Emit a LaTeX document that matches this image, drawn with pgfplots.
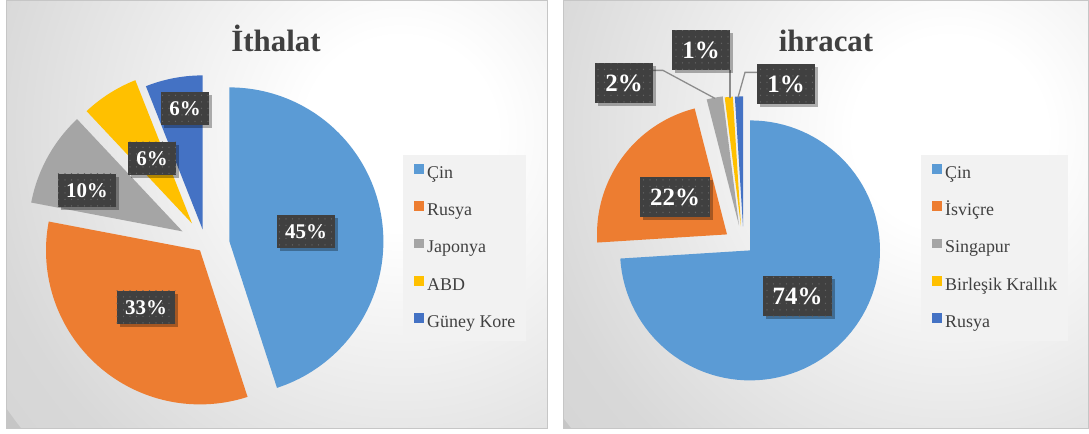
\documentclass[border=0pt]{standalone}
\usepackage{pgfplots}
\pgfplotsset{compat=1.18}
\usepackage{pgfplotstable}
\usepackage{fontspec}
\setmainfont{Liberation Serif}
\usetikzlibrary{shadows,patterns.meta}

\definecolor{cBlue}{HTML}{5B9BD5}
\definecolor{cOrange}{HTML}{ED7D31}
\definecolor{cGray}{HTML}{A5A5A5}
\definecolor{cGold}{HTML}{FFC000}
\definecolor{cDark}{HTML}{4472C4}
\definecolor{lblbg}{HTML}{404040}
\definecolor{txt}{HTML}{404040}
\definecolor{bgmid}{HTML}{D8D8D8}
\definecolor{bgedge}{HTML}{C6C6C6}
\definecolor{legbg}{HTML}{F2F2F2}

\pgfdeclareradialshading{panelbg}{\pgfpoint{0bp}{0bp}}{%
  color(0bp)=(white); color(5bp)=(white); color(22bp)=(bgmid); color(50bp)=(bgedge)}

% value = share in %, vx/vy = slice tip (exploded), lx/ly = label centre
\pgfplotstableread{
name value col vx vy lx ly
Çin 45 cBlue 229.4 192 306 202
Rusya 33 cOrange 200 183 146 126
Japonya 10 cGray 182.5 202 87 243
ABD 6 cGold 192 210 152 275
{Güney Kore} 6 cDark 202.6 204 185 325
}\ithalat

\pgfplotstableread{
name value col vx vy lx ly
Çin 74 cBlue 750 183 797.5 137
İsviçre 22 cOrange 727 199 675 236
Singapur 2 cGray 739 208 624 350
{Birleşik Krallık} 1 cGold 741 207 701 383
Rusya 1 cDark 743 207 786 349
}\ihracat

\newcommand\pieslices[2]{% #1 table, #2 radius
  \pgfplotstablegetrowsof{#1}\pgfmathtruncatemacro\last{\pgfplotsretval-1}%
  \def\cum{0}%
  \pgfplotsforeachungrouped \i in {0,...,\last}{%
    \pgfplotstablegetelem{\i}{value}\of#1\let\v\pgfplotsretval
    \pgfplotstablegetelem{\i}{name}\of#1\let\nm\pgfplotsretval
    \pgfplotstablegetelem{\i}{col}\of#1\let\cl\pgfplotsretval
    \pgfplotstablegetelem{\i}{vx}\of#1\let\vx\pgfplotsretval
    \pgfplotstablegetelem{\i}{vy}\of#1\let\vy\pgfplotsretval
    \pgfmathsetmacro\ta{90-3.6*\cum}%
    \pgfmathsetmacro\tb{\ta-3.6*\v}%
    \pgfmathsetmacro\cum{\cum+\v}%
    \edef\next{\noexpand\addplot[fill=\cl, draw=none, domain=\tb:\ta, samples=90, variable=\noexpand\t]
      ({\vx+#2*cos(\noexpand\t)}, {\vy+#2*sin(\noexpand\t)}) -- (axis cs:\vx,\vy) -- cycle;
      \noexpand\addlegendentry{\nm}}%
    \next
  }%
}

\newcommand\pielabels[2]{% #1 table, #2 node style
  \pgfplotstablegetrowsof{#1}\pgfmathtruncatemacro\last{\pgfplotsretval-1}%
  \pgfplotsforeachungrouped \i in {0,...,\last}{%
    \pgfplotstablegetelem{\i}{value}\of#1\let\v\pgfplotsretval
    \pgfplotstablegetelem{\i}{lx}\of#1\let\lx\pgfplotsretval
    \pgfplotstablegetelem{\i}{ly}\of#1\let\ly\pgfplotsretval
    \edef\next{\noexpand\node[#2] at (axis cs:\lx,\ly) {\v\%};}%
    \next
  }%
}

\tikzset{
  lbl/.style={fill=lblbg, text=white, inner ysep=0bp,
    drop shadow={shadow xshift=3bp, shadow yshift=-3bp, fill=black, opacity=0.3},
    postaction={pattern={Dots[distance=6.5bp, radius=0.7bp]}, pattern color=gray!55!lblbg}},
  lblL/.style={lbl, font=\bfseries\fontsize{21}{21}\selectfont, inner xsep=8.5bp, minimum height=33bp},
  lblR/.style={lbl, font=\bfseries\fontsize{25}{25}\selectfont, inner xsep=10bp, minimum height=40bp},
  ttl/.style={anchor=base, text=txt, font=\bfseries\fontsize{31}{31}\selectfont},
}

\pgfplotsset{
  piebase/.style={
    at={(0bp,0bp)}, anchor=south west,
    x=1bp, y=1bp, xmin=0, xmax=1089, ymin=0, ymax=432,
    hide axis, clip=false,
    legend cell align=left,
    legend image code/.code={\fill[##1] (0bp,0bp) rectangle (10bp,9.5bp);},
    legend style={anchor=north west, draw=none, fill=legbg,
      inner xsep=11bp, inner ysep=9.5bp, row sep=19.3bp, column sep=3bp,
      font=\fontsize{18}{20}\selectfont, text=txt,
      nodes={inner sep=0bp, text height=13bp, text depth=4bp}},
  }
}

\begin{document}
\begin{tikzpicture}
\fill[white] (0bp,0bp) rectangle (1089bp,432bp);
% panel backgrounds
\begin{scope}
  \clip (6bp,5bp) rectangle (547bp,432bp);
  \fill[bgedge] (6bp,5bp) rectangle (547bp,432bp);
  \shade[shading=panelbg] (400bp,300bp) circle (480bp);
\end{scope}
\draw[gray!45, line width=0.8bp] (6bp,5bp) rectangle (547bp,433bp);
\begin{scope}
  \clip (563bp,5bp) rectangle (1089bp,432bp);
  \fill[bgedge] (563bp,5bp) rectangle (1089bp,432bp);
  \shade[shading=panelbg] (950bp,300bp) circle (480bp);
\end{scope}
\draw[gray!45, line width=0.8bp] (563bp,5bp) rectangle (1088bp,433bp);

\begin{axis}[piebase, legend style={at={(0.3701,0.6458)}}]
  \pieslices{\ithalat}{154}
  \node[ttl] at (axis cs:276,382) {İthalat};
  \pielabels{\ithalat}{lblL}
\end{axis}

\begin{axis}[piebase, legend style={at={(0.8457,0.6458)}}]
  \pieslices{\ihracat}{130}
  \addplot[forget plot, color=gray!90, line width=1.3bp] coordinates {(653,363) (663,363) (715,335)};
  \addplot[forget plot, color=gray!90, line width=1.3bp] coordinates {(730,363) (730,335)};
  \addplot[forget plot, color=gray!90, line width=1.3bp] coordinates {(758,361) (745,361) (738,336)};
  \node[ttl] at (axis cs:826,382) {ihracat};
  \pielabels{\ihracat}{lblR}
\end{axis}
\end{tikzpicture}
\end{document}
